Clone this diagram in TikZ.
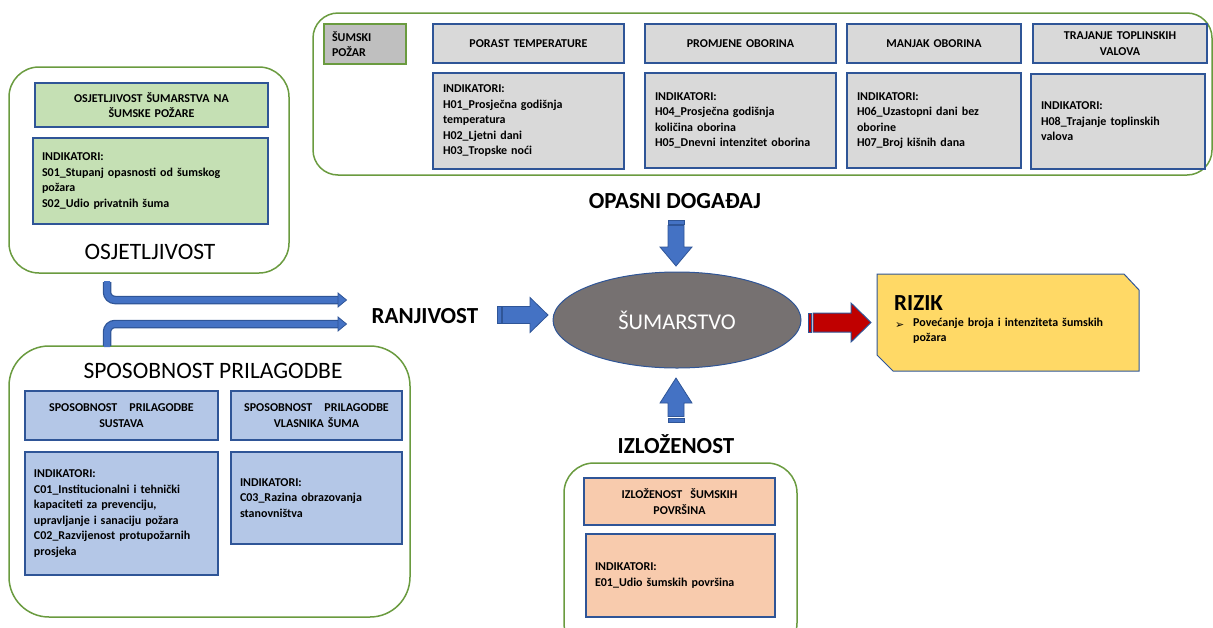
\documentclass[tikz,border=0pt]{standalone}
\usepackage{fontspec}
\setmainfont{Carlito}
\newfontfamily\dejavu{DejaVu Sans}
\usetikzlibrary{shapes.geometric}
\definecolor{grnbord}{HTML}{6A9B3F}
\definecolor{bluebord}{HTML}{2F5597}
\definecolor{grayfill}{HTML}{D9D9D9}
\definecolor{darkgray}{HTML}{BFBFBF}
\definecolor{grnfill}{HTML}{C5E0B4}
\definecolor{bluefill}{HTML}{B4C7E7}
\definecolor{orfill}{HTML}{F8CBAD}
\definecolor{yelfill}{HTML}{FFD966}
\definecolor{ellfill}{HTML}{767171}
\definecolor{arrblue}{HTML}{4472C4}
\definecolor{arrred}{HTML}{C00000}
\newcommand{\smallf}{\bfseries\fontsize{12}{15.5}\selectfont}
\newcommand{\bigf}{\bfseries\fontsize{23}{25}\selectfont}
\newcommand{\titlef}{\fontsize{23.5}{26}\selectfont}
\begin{document}
\begin{tikzpicture}[x=1pt,y=-1pt,
  outerbox/.style={draw=grnbord, line width=1.5pt, fill=white, inner sep=0pt},
  hdrbox/.style={draw=bluebord, line width=1.5pt, inner sep=0pt, align=center, font=\smallf},
  indbox/.style={draw=bluebord, line width=1.5pt, inner sep=0pt, align=left, font=\smallf},
  blockarr/.style={fill=arrblue, draw=bluebord, line width=0.8pt, line join=miter},
  redarr/.style={fill=arrred, draw=bluebord, line width=1pt, line join=miter},
  bigtxt/.style={font=\bigf, inner sep=0pt},
  titletxt/.style={font=\titlef, inner sep=0pt}
]
\useasboundingbox (0,0) rectangle (1213,627);

% ---------- Hazard group ----------
\node[outerbox, rounded corners=25pt, minimum width=899, minimum height=162] (haz) at (762.5,94) {};
\node[draw=grnbord, line width=1.5pt, fill=darkgray, minimum width=82, minimum height=40, inner sep=0pt,
      text width=66, align=left, font=\smallf] (sp) at (365,44) {ŠUMSKI\\POŽAR};

\node[hdrbox, fill=grayfill, minimum width=191, minimum height=39, text width=180] (h1) at (528.5,43.5) {PORAST TEMPERATURE};
\node[hdrbox, fill=grayfill, minimum width=191, minimum height=39, text width=180] (h2) at (740.5,43.5) {PROMJENE OBORINA};
\node[hdrbox, fill=grayfill, minimum width=174, minimum height=39, text width=164] (h3) at (934,43.5) {MANJAK OBORINA};
\node[hdrbox, fill=grayfill, minimum width=174, minimum height=39, text width=164] (h4) at (1120,43.5) {TRAJANJE TOPLINSKIH\\VALOVA};

\node[indbox, fill=grayfill, minimum width=191, minimum height=96, text width=171] (i1) at (528.5,121)
  {INDIKATORI:\\H01\_Prosječna godišnja\\temperatura\\H02\_Ljetni dani\\H03\_Tropske noći};
\node[indbox, fill=grayfill, minimum width=191, minimum height=95, text width=171] (i2) at (740.5,120.5)
  {INDIKATORI:\\H04\_Prosječna godišnja\\količina oborina\\H05\_Dnevni intenzitet oborina};
\node[indbox, fill=grayfill, minimum width=174, minimum height=95, text width=154] (i3) at (934,120.5)
  {INDIKATORI:\\H06\_Uzastopni dani bez\\oborine\\H07\_Broj kišnih dana};
\node[indbox, fill=grayfill, minimum width=174, minimum height=95, text width=154] (i4) at (1118,121.5)
  {INDIKATORI:\\H08\_Trajanje toplinskih\\valova};

% ---------- Osjetljivost ----------
\node[outerbox, rounded corners=30pt, minimum width=280, minimum height=206] (osj) at (149,170) {};
\node[hdrbox, fill=grnfill, minimum width=233, minimum height=44, text width=220] (oh) at (151.5,105)
  {OSJETLJIVOST ŠUMARSTVA NA\\ŠUMSKE POŽARE};
\node[indbox, fill=grnfill, minimum width=235, minimum height=86, text width=217] (oi) at (150.5,181)
  {INDIKATORI:\\S01\_Stupanj opasnosti od šumskog\\požara\\S02\_Udio privatnih šuma};
\node[titletxt] (osjt) at (150,252) {OSJETLJIVOST};

% ---------- Sposobnost prilagodbe ----------
\node[outerbox, rounded corners=40pt, minimum width=401, minimum height=271] (spo) at (209.5,481.5) {};
\node[titletxt] (spot) at (213,371) {SPOSOBNOST PRILAGODBE};
\node[hdrbox, fill=bluefill, minimum width=193, minimum height=49, text width=185] (sh1) at (121.5,415.5)
  {SPOSOBNOST\ \ \ PRILAGODBE\\SUSTAVA};
\node[hdrbox, fill=bluefill, minimum width=171, minimum height=49, text width=167] (sh2) at (316.5,415.5)
  {SPOSOBNOST\ \ \ PRILAGODBE\\VLASNIKA ŠUMA};
\node[indbox, fill=bluefill, minimum width=193, minimum height=123, text width=175] (si1) at (121.5,513.5)
  {INDIKATORI:\\C01\_Institucionalni i tehnički\\kapaciteti za prevenciju,\\upravljanje i sanaciju požara\\C02\_Razvijenost protupožarnih\\prosjeka};
\node[indbox, fill=bluefill, minimum width=171, minimum height=92, text width=153] (si2) at (316.5,498)
  {INDIKATORI:\\C03\_Razina obrazovanja\\stanovništva};

% ---------- Izlozenost ----------
\node[outerbox, rounded corners=30pt, minimum width=233, minimum height=190] (izl) at (680.5,558) {};
\node[hdrbox, fill=orfill, minimum width=191, minimum height=47, text width=180] (ih) at (679.5,501.5)
  {IZLOŽENOST\ \ ŠUMSKIH\\POVRŠINA};
\node[indbox, fill=orfill, minimum width=189, minimum height=83, text width=171] (ii) at (680.5,575.5)
  {INDIKATORI:\\E01\_Udio šumskih površina};

% ---------- Centre ----------
\node[ellipse, draw=bluebord, line width=1pt, fill=ellfill, minimum width=248, minimum height=96, inner sep=0pt,
      text=white, font=\fontsize{22.5}{24}\selectfont] (sum) at (677,320) {ŠUMARSTVO};

\node[bigtxt] (ran) at (425,316) {RANJIVOST};
\node[bigtxt] (opa) at (675,201) {OPASNI DOGAĐAJ};
\node[bigtxt] (izt) at (676,444) {IZLOŽENOST};

% ---------- RIZIK ----------
\draw[fill=yelfill, draw=bluebord, line width=1pt] (877,274) coordinate (rz1) -- (1124,274) -- (1139,290) -- (1139,371) coordinate (rz2) -- (893,371) -- (877,355) -- cycle;
\node[anchor=west, inner sep=0pt, font=\bfseries\fontsize{23}{24}\selectfont] (rz) at (894,303) {RIZIK};
\node[anchor=west, inner sep=0pt, font=\dejavu\fontsize{11}{11}\selectfont] (bul) at (895,325.5) {➢};
\node[anchor=north west, inner sep=0pt, align=left, text width=225, font=\smallf] (rzt) at (913,317.5)
  {Povećanje broja i intenziteta šumskih\\požara};

% ---------- Bent arrows ----------
\coordinate (b1s) at (107,282);
\coordinate (b1c) at (107,300);
\coordinate (b1e) at (338,300);
\coordinate (b2s) at (107,346);
\coordinate (b2c) at (107,324);
\coordinate (b2e) at (338,324);
\draw[bluebord, line width=8.5pt, rounded corners=8pt] (b1s) -- (b1c) -- (b1e);
\draw[arrblue, line width=6pt, rounded corners=8pt] ([yshift=1pt]b1s) -- (b1c) -- ([xshift=1pt]b1e);
\draw[blockarr] (338,293) -- (346.5,300) -- (338,307) -- cycle;
\draw[bluebord, line width=8.5pt, rounded corners=8pt] (b2s) -- (b2c) -- (b2e);
\draw[arrblue, line width=6pt, rounded corners=8pt] ([yshift=-1pt]b2s) -- (b2c) -- ([xshift=1pt]b2e);
\draw[blockarr] (338,317) -- (346.5,324) -- (338,331) -- cycle;

% ---------- Block arrows ----------
\draw[blockarr] (497,306.5) rectangle (501,323.5);
\draw[blockarr] (502.5,306.5) -- (530,306.5) -- (530,297.5) -- (548,315) -- (530,332.5) -- (530,323.5) -- (502.5,323.5) -- cycle;
\draw[blockarr] (668,220) rectangle (684,224);
\draw[blockarr] (668,225.5) -- (684,225.5) -- (684,247) -- (692,247) -- (676,266) -- (660,247) -- (668,247) -- cycle;
\draw[blockarr] (668,418) rectangle (684,422);
\draw[blockarr] (668,416.5) -- (684,416.5) -- (684,403) -- (692,403) -- (676,378) -- (660,403) -- (668,403) -- cycle;
\draw[redarr] (808,313) rectangle (811.5,332);
\draw[redarr] (813,313) -- (851,313) -- (851,303) -- (871,322.5) -- (851,342) -- (851,332) -- (813,332) -- cycle;
\end{tikzpicture}
\end{document}
